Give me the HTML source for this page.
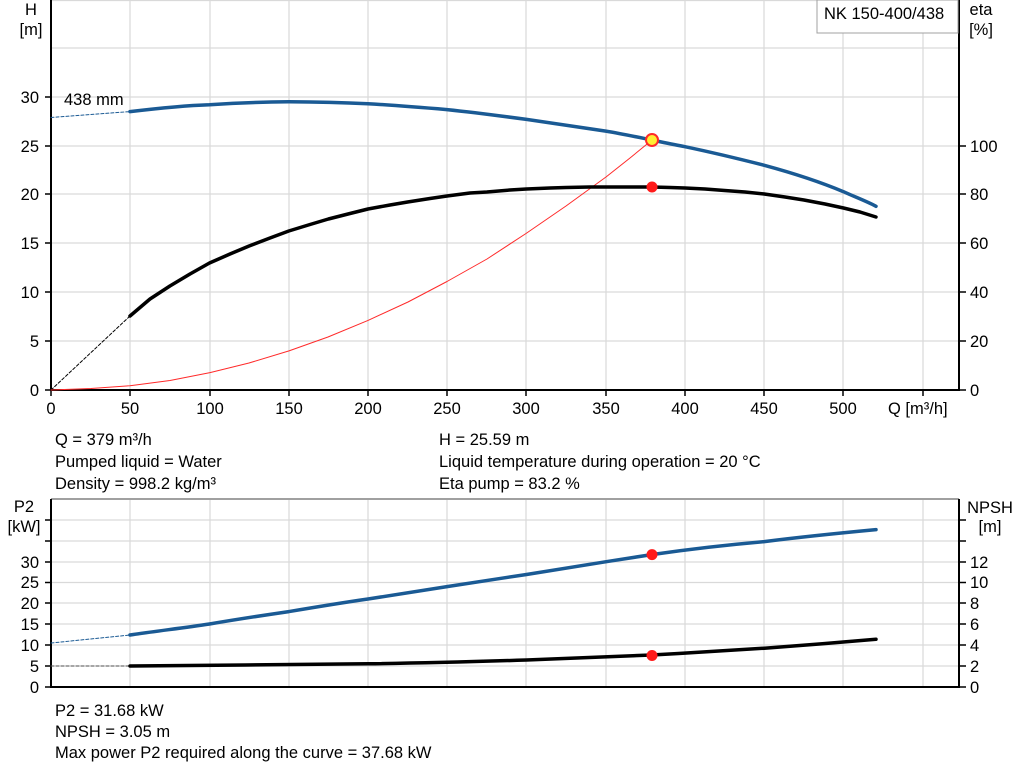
<!DOCTYPE html>
<html><head><meta charset="utf-8"><style>
body{margin:0;background:#fff;}
svg{display:block;font-family:"Liberation Sans",Arial,sans-serif;}
text{font-size:16.5px;fill:#000;}
</style></head><body>
<svg width="1024" height="781" viewBox="0 0 1024 781" xmlns="http://www.w3.org/2000/svg">
<g stroke="#d9d9d9" stroke-width="1.2">
<line x1="130" y1="0" x2="130" y2="390"/><line x1="210" y1="0" x2="210" y2="390"/><line x1="289" y1="0" x2="289" y2="390"/><line x1="368" y1="0" x2="368" y2="390"/><line x1="447" y1="0" x2="447" y2="390"/><line x1="526" y1="0" x2="526" y2="390"/><line x1="606" y1="0" x2="606" y2="390"/><line x1="685" y1="0" x2="685" y2="390"/><line x1="764" y1="0" x2="764" y2="390"/><line x1="843" y1="0" x2="843" y2="390"/><line x1="923" y1="0" x2="923" y2="390"/>
<line x1="51" y1="341" x2="959" y2="341"/><line x1="51" y1="292" x2="959" y2="292"/><line x1="51" y1="243" x2="959" y2="243"/><line x1="51" y1="194" x2="959" y2="194"/><line x1="51" y1="146" x2="959" y2="146"/><line x1="51" y1="97" x2="959" y2="97"/><line x1="51" y1="48" x2="959" y2="48"/><line x1="51" y1="0.5" x2="959" y2="0.5"/>
<line x1="130" y1="499" x2="130" y2="687"/><line x1="210" y1="499" x2="210" y2="687"/><line x1="289" y1="499" x2="289" y2="687"/><line x1="368" y1="499" x2="368" y2="687"/><line x1="447" y1="499" x2="447" y2="687"/><line x1="526" y1="499" x2="526" y2="687"/><line x1="606" y1="499" x2="606" y2="687"/><line x1="685" y1="499" x2="685" y2="687"/><line x1="764" y1="499" x2="764" y2="687"/><line x1="843" y1="499" x2="843" y2="687"/><line x1="923" y1="499" x2="923" y2="687"/>
<line x1="51" y1="666" x2="959" y2="666"/><line x1="51" y1="645" x2="959" y2="645"/><line x1="51" y1="624" x2="959" y2="624"/><line x1="51" y1="603" x2="959" y2="603"/><line x1="51" y1="582.5" x2="959" y2="582.5"/><line x1="51" y1="562" x2="959" y2="562"/><line x1="51" y1="541" x2="959" y2="541"/><line x1="51" y1="520" x2="959" y2="520"/>
</g>
<line x1="51" y1="499" x2="959" y2="499" stroke="#a0a0a0" stroke-width="2"/>
<g stroke="#000" stroke-width="2" fill="none">
<line x1="51" y1="0" x2="51" y2="390"/><line x1="50" y1="390" x2="960" y2="390"/><line x1="959" y1="0" x2="959" y2="391"/>
<line x1="51" y1="499" x2="51" y2="687"/><line x1="50" y1="687" x2="960" y2="687"/><line x1="959" y1="499" x2="959" y2="688"/>
</g>
<g stroke="#000" stroke-width="1.5">
<line x1="45" y1="390" x2="51" y2="390"/><line x1="45" y1="341" x2="51" y2="341"/><line x1="45" y1="292" x2="51" y2="292"/><line x1="45" y1="243" x2="51" y2="243"/><line x1="45" y1="194" x2="51" y2="194"/><line x1="45" y1="146" x2="51" y2="146"/><line x1="45" y1="97" x2="51" y2="97"/>
<line x1="959" y1="390" x2="966" y2="390"/><line x1="959" y1="341" x2="966" y2="341"/><line x1="959" y1="292" x2="966" y2="292"/><line x1="959" y1="243" x2="966" y2="243"/><line x1="959" y1="194" x2="966" y2="194"/><line x1="959" y1="146" x2="966" y2="146"/>
<line x1="51" y1="390" x2="51" y2="396"/><line x1="130" y1="390" x2="130" y2="396"/><line x1="210" y1="390" x2="210" y2="396"/><line x1="289" y1="390" x2="289" y2="396"/><line x1="368" y1="390" x2="368" y2="396"/><line x1="447" y1="390" x2="447" y2="396"/><line x1="526" y1="390" x2="526" y2="396"/><line x1="606" y1="390" x2="606" y2="396"/><line x1="685" y1="390" x2="685" y2="396"/><line x1="764" y1="390" x2="764" y2="396"/><line x1="843" y1="390" x2="843" y2="396"/><line x1="923" y1="390" x2="923" y2="396"/>
<line x1="45" y1="687" x2="51" y2="687"/><line x1="45" y1="666" x2="51" y2="666"/><line x1="45" y1="645" x2="51" y2="645"/><line x1="45" y1="624" x2="51" y2="624"/><line x1="45" y1="603" x2="51" y2="603"/><line x1="45" y1="582.5" x2="51" y2="582.5"/><line x1="45" y1="562" x2="51" y2="562"/><line x1="45" y1="541" x2="51" y2="541"/><line x1="45" y1="520" x2="51" y2="520"/>
<line x1="959" y1="687" x2="966" y2="687"/><line x1="959" y1="666" x2="966" y2="666"/><line x1="959" y1="645" x2="966" y2="645"/><line x1="959" y1="624" x2="966" y2="624"/><line x1="959" y1="603" x2="966" y2="603"/><line x1="959" y1="582.5" x2="966" y2="582.5"/><line x1="959" y1="562" x2="966" y2="562"/><line x1="959" y1="541" x2="966" y2="541"/><line x1="959" y1="520" x2="966" y2="520"/>
</g>
<g text-anchor="end">
<text x="39" y="396">0</text><text x="39" y="347">5</text><text x="39" y="298">10</text><text x="39" y="249">15</text><text x="39" y="200">20</text><text x="39" y="152">25</text><text x="39" y="103">30</text>
<text x="39" y="693">0</text><text x="39" y="672">5</text><text x="39" y="651">10</text><text x="39" y="630">15</text><text x="39" y="609">20</text><text x="39" y="588">25</text><text x="39" y="568">30</text>
</g>
<text x="31" y="15" text-anchor="middle">H</text><text x="31" y="35" text-anchor="middle">[m]</text>
<text x="24" y="512" text-anchor="middle">P2</text><text x="24" y="532" text-anchor="middle">[kW]</text>
<g>
<text x="970" y="396">0</text><text x="970" y="347">20</text><text x="970" y="298">40</text><text x="970" y="249">60</text><text x="970" y="200">80</text><text x="970" y="152">100</text>
<text x="970" y="693">0</text><text x="970" y="672">2</text><text x="970" y="651">4</text><text x="970" y="630">6</text><text x="970" y="609">8</text><text x="970" y="588">10</text><text x="970" y="568">12</text>
</g>
<text x="981" y="15" text-anchor="middle">eta</text><text x="981" y="35" text-anchor="middle">[%]</text>
<text x="990" y="513" text-anchor="middle">NPSH</text><text x="990" y="532" text-anchor="middle">[m]</text>
<g text-anchor="middle">
<text x="51" y="414">0</text><text x="130" y="414">50</text><text x="210" y="414">100</text><text x="289" y="414">150</text><text x="368" y="414">200</text><text x="447" y="414">250</text><text x="526" y="414">300</text><text x="606" y="414">350</text><text x="685" y="414">400</text><text x="764" y="414">450</text><text x="843" y="414">500</text>
</g>
<text x="888" y="414">Q [m³/h]</text>
<rect x="817" y="0" width="141" height="33" fill="#fff" stroke="#a0a0a0" stroke-width="1"/>
<text x="824" y="19">NK 150-400/438</text>
<text x="64" y="105">438 mm</text>
<g fill="none" stroke-linecap="round" stroke-linejoin="round">
<path d="M51,117.5 L130,111.6" stroke="#1a5a94" stroke-width="1" stroke-dasharray="3,2"/>
<path d="M51,390 L130,316" stroke="#000" stroke-width="1" stroke-dasharray="3,2"/>
<path d="M51,390 L91,388.5 L130,385.7 L170,380.5 L210,372.6 L249,363 L289,350.9 L328,337 L368,320.4 L408,302 L447,281.5 L487,259 L526,233.5 L566,206 L606,177 L630,158 L652,140" stroke="#ff2a2a" stroke-width="1"/>
<path d="M130,111.6 C160,108 185,105.5 209.5,104.7 C240,102.8 265,102 288.8,101.8 C315,102 340,102.5 368,103.7 C395,105.3 420,107.3 447,109.6 C475,112.5 500,115.8 526.5,119.4 C555,123.6 580,127.3 605.8,131.1 C622,133.8 637,137 651.7,140 C663,142.3 674,144.6 685,146.7 C713,152.6 738,158.6 764.3,165.3 C792,172.8 818,181 843.5,191.7 C855,197 866,201 876,206.3" stroke="#1a5a94" stroke-width="3.5"/>
<polyline points="130,316 150,299 169.9,286 190,274 209.5,263 230,254 249.1,246 270,238 288.8,231 310,224.5 328.4,219 350,213.5 368,209 390,205 407.6,202 430,198.5 447,196 470,193 486.9,192 510,190 526.5,189 550,188 566.1,187.5 590,187 605.8,187 630,187 651.7,187 670,187.5 685,188 705,189 724.6,190.5 745,192 764.3,194 785,197 803.9,200 825,204 843.5,208 860,212 876,217" stroke="#000" stroke-width="3.5"/>
<path d="M51,643 L130,635" stroke="#1a5a94" stroke-width="1" stroke-dasharray="3,2"/>
<path d="M51,666 L130,666" stroke="#555" stroke-width="1" stroke-dasharray="3,2"/>
<path d="M130,635 C157,631 183,628 209.5,624 C236,619.5 262,615.5 288.8,611.6 C315,607.2 340,603 368,599 C394,594.8 420,590.6 447,586.6 C473,582.5 500,578.5 526.5,574.5 C560,569 610,561 651.7,554.6 C690,549 725,545 764.3,541.6 C800,537 840,533 876,529.6" stroke="#1a5a94" stroke-width="3.5"/>
<path d="M130,666 C200,665.5 300,664.5 368,663.8 C430,663 480,661.5 526.5,660 C580,658 620,656.5 651.7,655 C690,653 730,650.5 764.3,648.2 C800,645.6 840,642.5 876,639.3" stroke="#000" stroke-width="3.5"/>
</g>
<circle cx="652" cy="140" r="6" fill="#ffee33" stroke="#ff2a2a" stroke-width="2"/>
<circle cx="652" cy="187" r="5.5" fill="#ff1a1a"/>
<circle cx="652" cy="554.6" r="5.5" fill="#ff1a1a"/>
<circle cx="652" cy="655.5" r="5.5" fill="#ff1a1a"/>
<text x="55" y="445">Q = 379 m³/h</text>
<text x="55" y="467">Pumped liquid = Water</text>
<text x="55" y="489">Density = 998.2 kg/m³</text>
<text x="439" y="445">H = 25.59 m</text>
<text x="439" y="467">Liquid temperature during operation = 20 °C</text>
<text x="439" y="489">Eta pump = 83.2 %</text>
<text x="55" y="716">P2 = 31.68 kW</text>
<text x="55" y="737">NPSH = 3.05 m</text>
<text x="55" y="758">Max power P2 required along the curve = 37.68 kW</text>
</svg>
</body></html>
